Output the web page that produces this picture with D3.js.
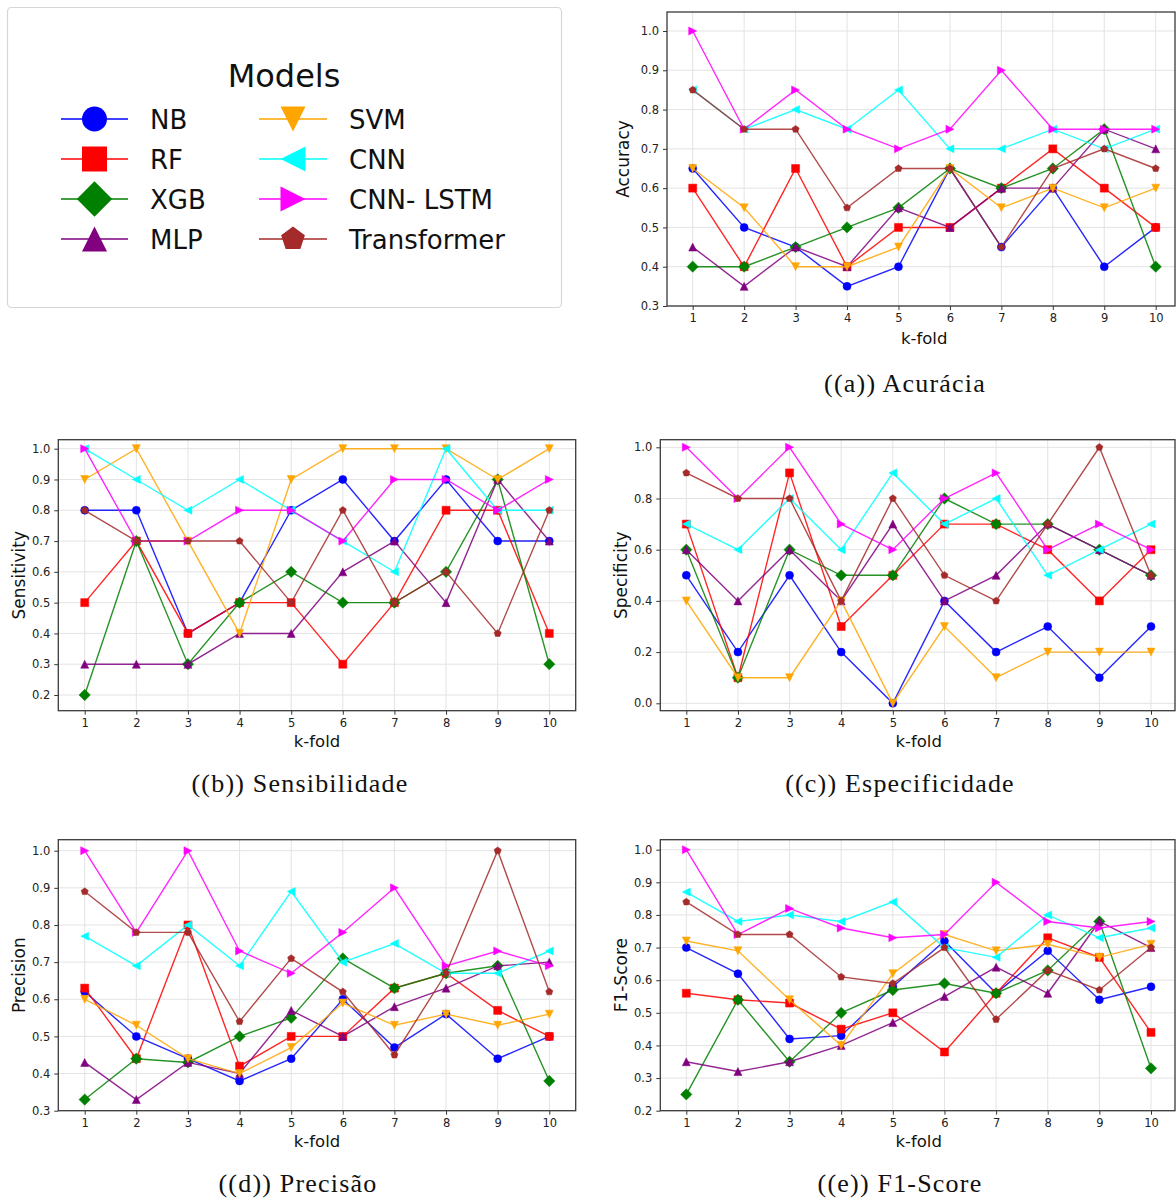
<!DOCTYPE html>
<html>
<head>
<meta charset="utf-8">
<script src="https://cdn.jsdelivr.net/npm/d3@7"></script>
<style>
  html, body { margin: 0; padding: 0; background: #fff; }
  svg { display: block; }
  .tick text { font-family: "DejaVu Sans", sans-serif; fill: #222; }
</style>
</head>
<body>
<svg id="fig" width="1176" height="1201"></svg>
<script>
// ---- data -------------------------------------------------------------
const folds = [1, 2, 3, 4, 5, 6, 7, 8, 9, 10];
const models = ["NB", "RF", "XGB", "MLP", "SVM", "CNN", "CNN- LSTM", "Transformer"];
const modelColors = ["#0000ff", "#ff0000", "#008000", "#800080", "#ffa500", "#00ffff", "#ff00ff", "#a52a2a"];
const modelMarkers = ["circle", "square", "diamond", "triUp", "triDown", "triLeft", "triRight", "pentagon"];

// one row per model, in the order of `models`
const accuracy = [
  [0.65, 0.50, 0.45, 0.35, 0.40, 0.65, 0.45, 0.60, 0.40, 0.50],
  [0.60, 0.40, 0.65, 0.40, 0.50, 0.50, 0.60, 0.70, 0.60, 0.50],
  [0.40, 0.40, 0.45, 0.50, 0.55, 0.65, 0.60, 0.65, 0.75, 0.40],
  [0.45, 0.35, 0.45, 0.40, 0.55, 0.50, 0.60, 0.60, 0.75, 0.70],
  [0.65, 0.55, 0.40, 0.40, 0.45, 0.65, 0.55, 0.60, 0.55, 0.60],
  [0.85, 0.75, 0.80, 0.75, 0.85, 0.70, 0.70, 0.75, 0.70, 0.75],
  [1.00, 0.75, 0.85, 0.75, 0.70, 0.75, 0.90, 0.75, 0.75, 0.75],
  [0.85, 0.75, 0.75, 0.55, 0.65, 0.65, 0.45, 0.65, 0.70, 0.65]
];
const sensitivity = [
  [0.8, 0.8, 0.4, 0.5, 0.8, 0.9, 0.7, 0.9, 0.7, 0.7],
  [0.5, 0.7, 0.4, 0.5, 0.5, 0.3, 0.5, 0.8, 0.8, 0.4],
  [0.2, 0.7, 0.3, 0.5, 0.6, 0.5, 0.5, 0.6, 0.9, 0.3],
  [0.3, 0.3, 0.3, 0.4, 0.4, 0.6, 0.7, 0.5, 0.9, 0.7],
  [0.9, 1.0, 0.7, 0.4, 0.9, 1.0, 1.0, 1.0, 0.9, 1.0],
  [1.0, 0.9, 0.8, 0.9, 0.8, 0.7, 0.6, 1.0, 0.8, 0.8],
  [1.0, 0.7, 0.7, 0.8, 0.8, 0.7, 0.9, 0.9, 0.8, 0.9],
  [0.8, 0.7, 0.7, 0.7, 0.5, 0.8, 0.5, 0.6, 0.4, 0.8]
];
const specificity = [
  [0.5, 0.2, 0.5, 0.2, 0.0, 0.4, 0.2, 0.3, 0.1, 0.3],
  [0.7, 0.1, 0.9, 0.3, 0.5, 0.7, 0.7, 0.6, 0.4, 0.6],
  [0.6, 0.1, 0.6, 0.5, 0.5, 0.8, 0.7, 0.7, 0.6, 0.5],
  [0.6, 0.4, 0.6, 0.4, 0.7, 0.4, 0.5, 0.7, 0.6, 0.5],
  [0.4, 0.1, 0.1, 0.4, 0.0, 0.3, 0.1, 0.2, 0.2, 0.2],
  [0.7, 0.6, 0.8, 0.6, 0.9, 0.7, 0.8, 0.5, 0.6, 0.7],
  [1.0, 0.8, 1.0, 0.7, 0.6, 0.8, 0.9, 0.6, 0.7, 0.6],
  [0.9, 0.8, 0.8, 0.4, 0.8, 0.5, 0.4, 0.7, 1.0, 0.5]
];
const precision = [
  [0.62, 0.50, 0.44, 0.38, 0.44, 0.60, 0.47, 0.56, 0.44, 0.50],
  [0.63, 0.44, 0.80, 0.42, 0.50, 0.50, 0.63, 0.67, 0.57, 0.50],
  [0.33, 0.44, 0.43, 0.50, 0.55, 0.71, 0.63, 0.67, 0.69, 0.38],
  [0.43, 0.33, 0.43, 0.40, 0.57, 0.50, 0.58, 0.63, 0.69, 0.70],
  [0.60, 0.53, 0.44, 0.40, 0.47, 0.59, 0.53, 0.56, 0.53, 0.56],
  [0.77, 0.69, 0.80, 0.69, 0.89, 0.70, 0.75, 0.67, 0.67, 0.73],
  [1.00, 0.78, 1.00, 0.73, 0.67, 0.78, 0.90, 0.69, 0.73, 0.69],
  [0.89, 0.78, 0.78, 0.54, 0.71, 0.62, 0.45, 0.67, 1.00, 0.62]
];
const f1score = [
  [0.70, 0.62, 0.42, 0.43, 0.58, 0.72, 0.56, 0.69, 0.54, 0.58],
  [0.56, 0.54, 0.53, 0.45, 0.50, 0.38, 0.56, 0.73, 0.67, 0.44],
  [0.25, 0.54, 0.35, 0.50, 0.57, 0.59, 0.56, 0.63, 0.78, 0.33],
  [0.35, 0.32, 0.35, 0.40, 0.47, 0.55, 0.64, 0.56, 0.78, 0.70],
  [0.72, 0.69, 0.54, 0.40, 0.62, 0.74, 0.69, 0.71, 0.67, 0.71],
  [0.87, 0.78, 0.80, 0.78, 0.84, 0.70, 0.67, 0.80, 0.73, 0.76],
  [1.00, 0.74, 0.82, 0.76, 0.73, 0.74, 0.90, 0.78, 0.76, 0.78],
  [0.84, 0.74, 0.74, 0.61, 0.59, 0.70, 0.48, 0.63, 0.57, 0.70]
];

const accuracyTicks = [0.3, 0.4, 0.5, 0.6, 0.7, 0.8, 0.9, 1.0];
const sensitivityTicks = [0.2, 0.3, 0.4, 0.5, 0.6, 0.7, 0.8, 0.9, 1.0];
const specificityTicks = [0.0, 0.2, 0.4, 0.6, 0.8, 1.0];
const precisionTicks = [0.3, 0.4, 0.5, 0.6, 0.7, 0.8, 0.9, 1.0];
const f1Ticks = [0.2, 0.3, 0.4, 0.5, 0.6, 0.7, 0.8, 0.9, 1.0];

// ---- marker shapes (matplotlib-like proportions, ms = marker size) -----
function markerPath(kind, ms) {
  const h = ms / 2;
  const poly = pts => "M" + pts.map(p => p[0].toFixed(2) + "," + p[1].toFixed(2)).join("L") + "Z";
  switch (kind) {
    case "circle": { const p = d3.path(); p.arc(0, 0, h, 0, 2 * Math.PI); p.closePath(); return p.toString(); }
    case "square": return poly([[-h, -h], [h, -h], [h, h], [-h, h]]);
    case "diamond": { const d = h * Math.SQRT2; return poly([[0, -d], [d, 0], [0, d], [-d, 0]]); }
    case "triUp": return poly([[0, -h], [h, h], [-h, h]]);
    case "triDown": return poly([[0, h], [h, -h], [-h, -h]]);
    case "triLeft": return poly([[-h, 0], [h, -h], [h, h]]);
    case "triRight": return poly([[h, 0], [-h, -h], [-h, h]]);
    case "pentagon": {
      const pts = d3.range(5).map(i => {
        const a = -Math.PI / 2 + i * 2 * Math.PI / 5;
        return [h * Math.cos(a), h * Math.sin(a)];
      });
      return poly(pts);
    }
  }
}

const svg = d3.select("#fig");
svg.append("rect").attr("width", 1176).attr("height", 1201).attr("fill", "#fff");

// ---- legend ----------------------------------------------------------
(function drawLegend() {
  const g = svg.append("g");
  g.append("rect")
    .attr("x", 7.5).attr("y", 7.5).attr("width", 554).attr("height", 300)
    .attr("rx", 4).attr("fill", "#fff").attr("stroke", "#d6d6d6").attr("stroke-width", 1.2);
  g.append("text")
    .attr("x", 284).attr("y", 87)
    .attr("text-anchor", "middle")
    .attr("font-family", "DejaVu Sans, sans-serif")
    .attr("font-size", 32).attr("fill", "#111")
    .text("Models");
  const cols = [{ x0: 61, x1: 128, tx: 150 }, { x0: 259, x1: 327, tx: 349 }];
  const rowY = [119, 159, 199, 239];
  models.forEach((m, i) => {
    const c = cols[Math.floor(i / 4)];
    const y = rowY[i % 4];
    const cx = (c.x0 + c.x1) / 2;
    g.append("line").attr("x1", c.x0).attr("x2", c.x1).attr("y1", y).attr("y2", y)
      .attr("stroke", modelColors[i]).attr("stroke-width", 1.4);
    g.append("path").attr("d", markerPath(modelMarkers[i], 25))
      .attr("transform", `translate(${cx},${y})`)
      .attr("fill", modelColors[i]);
    g.append("text").attr("x", c.tx).attr("y", y + 9.5)
      .attr("font-family", "DejaVu Sans, sans-serif")
      .attr("font-size", 26).attr("fill", "#111")
      .text(m);
  });
})();

// ---- panels ----------------------------------------------------------
const panels = [
  { values: accuracy, ticks: accuracyTicks, ylabel: "Accuracy", caption: "((a)) Acurácia",
    box: { l: 667, r: 1175, t: 12, b: 306 }, xr: [692.7, 1155.7], yr: [306, 31], yd: [0.3, 1.0],
    ylabX: 623, xlabDy: 38, capX: 905, capY: 392 },
  { values: sensitivity, ticks: sensitivityTicks, ylabel: "Sensitivity", caption: "((b)) Sensibilidade",
    box: { l: 58.3, r: 575.7, t: 439.7, b: 710.7 }, xr: [84.7, 549.3], yr: [695, 448.7], yd: [0.2, 1.0],
    ylabX: 19, xlabDy: 36, capX: 300, capY: 792 },
  { values: specificity, ticks: specificityTicks, ylabel: "Specificity", caption: "((c)) Especificidade",
    box: { l: 660.3, r: 1175, t: 439.7, b: 710.7 }, xr: [686.3, 1151], yr: [703.3, 447.3], yd: [0.0, 1.0],
    ylabX: 621, xlabDy: 36, capX: 900, capY: 792 },
  { values: precision, ticks: precisionTicks, ylabel: "Precision", caption: "((d)) Precisão",
    box: { l: 58.3, r: 575.7, t: 839.7, b: 1110.7 }, xr: [84.7, 549.3], yr: [1110.7, 850.7], yd: [0.3, 1.0],
    ylabX: 19, xlabDy: 36, capX: 298, capY: 1192 },
  { values: f1score, ticks: f1Ticks, ylabel: "F1-Score", caption: "((e)) F1-Score",
    box: { l: 660.3, r: 1175, t: 839.7, b: 1110.7 }, xr: [686.3, 1151], yr: [1110.7, 849.7], yd: [0.2, 1.0],
    ylabX: 621, xlabDy: 36, capX: 900, capY: 1192 }
];

panels.forEach(p => {
  const x = d3.scaleLinear().domain([1, 10]).range(p.xr);
  const y = d3.scaleLinear().domain(p.yd).range(p.yr);
  const B = p.box;
  const g = svg.append("g");

  // grid
  g.append("g").selectAll("line").data(folds).join("line")
    .attr("x1", d => x(d)).attr("x2", d => x(d)).attr("y1", B.t).attr("y2", B.b)
    .attr("stroke", "#e3e3e3").attr("stroke-width", 1);
  g.append("g").selectAll("line").data(p.ticks).join("line")
    .attr("x1", B.l).attr("x2", B.r).attr("y1", d => y(d)).attr("y2", d => y(d))
    .attr("stroke", "#e3e3e3").attr("stroke-width", 1);

  // axes
  const xAxis = g.append("g").attr("transform", `translate(0,${B.b})`)
    .call(d3.axisBottom(x).tickValues(folds).tickFormat(d3.format("d")).tickSizeOuter(0).tickSize(4).tickPadding(4));
  const yAxis = g.append("g").attr("transform", `translate(${B.l},0)`)
    .call(d3.axisLeft(y).tickValues(p.ticks).tickFormat(d3.format(".1f")).tickSizeOuter(0).tickSize(4).tickPadding(4));
  [xAxis, yAxis].forEach(a => {
    a.select(".domain").remove();
    a.selectAll(".tick line").attr("stroke", "#333").attr("stroke-width", 1);
    a.selectAll(".tick text").attr("font-size", 11.5).attr("fill", "#222");
  });

  // series
  const line = d3.line().x((d, i) => x(folds[i])).y(d => y(d));
  p.values.forEach((vals, mi) => {
    const s = g.append("g");
    s.append("path").attr("d", line(vals))
      .attr("fill", "none").attr("stroke", modelColors[mi])
      .attr("stroke-width", 1.4).attr("stroke-opacity", 0.85);
    s.selectAll("path.mk").data(vals).join("path").attr("class", "mk")
      .attr("d", markerPath(modelMarkers[mi], modelMarkers[mi] === "pentagon" ? 7.5 : 8))
      .attr("transform", (d, i) => `translate(${x(folds[i])},${y(d)})`)
      .attr("fill", modelColors[mi])
      .attr("stroke", modelColors[mi]).attr("stroke-opacity", 0.5).attr("stroke-width", 1);
  });

  // frame
  g.append("rect")
    .attr("x", B.l).attr("y", B.t).attr("width", B.r - B.l).attr("height", B.b - B.t)
    .attr("fill", "none").attr("stroke", "#3a3a3a").attr("stroke-width", 1.3);

  // labels
  g.append("text")
    .attr("transform", `translate(${p.ylabX},${(B.t + B.b) / 2}) rotate(-90)`)
    .attr("text-anchor", "middle").attr("dominant-baseline", "central")
    .attr("font-family", "DejaVu Sans, sans-serif").attr("font-size", 17).attr("fill", "#111")
    .text(p.ylabel);
  const xEnd = p.xr[1] + (p.xr[1] - p.xr[0]) / 18;
  g.append("text")
    .attr("x", (p.xr[0] - (p.xr[1] - p.xr[0]) / 18 + xEnd) / 2)
    .attr("y", B.b + p.xlabDy)
    .attr("text-anchor", "middle")
    .attr("font-family", "DejaVu Sans, sans-serif").attr("font-size", 16.5).attr("fill", "#111")
    .text("k-fold");
  svg.append("text")
    .attr("x", p.capX).attr("y", p.capY)
    .attr("text-anchor", "middle")
    .attr("font-family", "Liberation Serif, serif").attr("font-size", 26)
    .attr("letter-spacing", 1.2).attr("fill", "#111")
    .text(p.caption);
});
</script>
</body>
</html>
